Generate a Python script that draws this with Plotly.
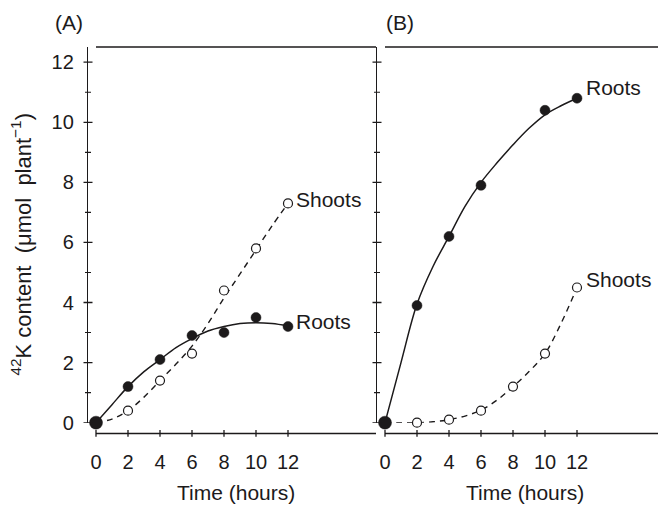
import plotly.graph_objects as go

# ---- measured data (hours, 42K content in umol per plant) ----
hours = [0, 2, 4, 6, 8, 10, 12]
roots_a = [0.0, 1.2, 2.1, 2.9, 3.0, 3.5, 3.2]
shoots_a = [0.0, 0.4, 1.4, 2.3, 4.4, 5.8, 7.3]

hours_roots_b = [0, 2, 4, 6, 10, 12]
roots_b = [0.0, 3.9, 6.2, 7.9, 10.4, 10.8]
shoots_b = [0.0, 0.0, 0.1, 0.4, 1.2, 2.3, 4.5]

# ---- fitted curves, sampled every hour ----
fit_hours = [0, 1, 2, 3, 4, 5, 6, 7, 8, 9, 10, 11, 12]
fit_roots_a = [0.0, 0.6, 1.2, 1.7, 2.1, 2.5, 2.8, 3.05, 3.2, 3.3, 3.33, 3.3, 3.22]
fit_shoots_a = [0.0, 0.12, 0.4, 0.85, 1.4, 1.95, 2.55, 3.3, 4.15, 4.95, 5.75, 6.55, 7.3]
fit_roots_b = [0.0, 2.0, 3.95, 5.2, 6.2, 7.2, 8.0, 8.65, 9.25, 9.8, 10.25, 10.55, 10.8]
fit_shoots_b = [0.0, 0.0, 0.0, 0.03, 0.1, 0.22, 0.42, 0.75, 1.2, 1.7, 2.3, 3.3, 4.5]

# ---- axis ticks and labels ----
x_ticks = [0, 2, 4, 6, 8, 10, 12]
y_ticks = [0, 2, 4, 6, 8, 10, 12]
y_minor = [1, 3, 5, 7, 9, 11]
panel_labels = ["(A)", "(B)"]
x_title = "Time (hours)"
y_title = "<sup>42</sup>K content\u00a0 (\u03bcmol\u00a0 plant<sup>\u22121</sup>)"

INK = "#1c1a1b"
FONT = "Liberation Sans, Arial, Helvetica, sans-serif"
W, H = 658, 509


def py(v):
    """pixel row -> paper y"""
    return 1 - v / H


def px(v):
    """pixel column -> paper x"""
    return v / W


Y_TOP = 12.508
XA_RANGE = [-0.5, 17.5]
XB_RANGE = [-0.5, 17.0625]

fig = go.Figure()


def add_panel(xa, ya, fx, fr, fs, hx_r, r_vals, s_vals):
    fig.add_trace(go.Scatter(x=fx, y=fs, mode="lines", xaxis=xa, yaxis=ya,
                             line=dict(color=INK, width=1.4, dash="6px,5px", shape="spline", smoothing=1.0),
                             hoverinfo="skip", showlegend=False))
    fig.add_trace(go.Scatter(x=fx, y=fr, mode="lines", xaxis=xa, yaxis=ya,
                             line=dict(color=INK, width=1.5, shape="spline", smoothing=1.0),
                             hoverinfo="skip", showlegend=False))
    fig.add_trace(go.Scatter(x=hours, y=s_vals, mode="markers", xaxis=xa, yaxis=ya,
                             marker=dict(symbol="circle", size=9, color="white", opacity=1,
                                         line=dict(color=INK, width=1.2)),
                             cliponaxis=False, showlegend=False))
    sizes = [13] + [10] * (len(r_vals) - 1)
    fig.add_trace(go.Scatter(x=hx_r, y=r_vals, mode="markers", xaxis=xa, yaxis=ya,
                             marker=dict(symbol="circle", size=sizes, color=INK, opacity=1,
                                         line=dict(color=INK, width=0.5)),
                             cliponaxis=False, showlegend=False))


add_panel("x", "y", fit_hours, fit_roots_a, fit_shoots_a, hours, roots_a, shoots_a)
add_panel("x2", "y2", fit_hours, fit_roots_b, fit_shoots_b, hours_roots_b, roots_b, shoots_b)

common_x = dict(showgrid=False, zeroline=False, showline=False, anchor="free",
                position=py(443), tickvals=x_ticks, ticks="outside", ticklen=11,
                tickcolor="rgba(0,0,0,0)", tickfont=dict(size=20, color=INK, family=FONT))
common_y = dict(showgrid=False, zeroline=False, showline=True, linecolor=INK, linewidth=1.4,
                domain=[py(432), py(48)], range=[0, Y_TOP], tickvals=y_ticks,
                ticks="outside", ticklen=9, tickcolor="rgba(0,0,0,0)",
                tickfont=dict(size=20, color=INK, family=FONT))

fig.update_layout(
    width=W, height=H, autosize=False,
    margin=dict(l=0, r=0, t=0, b=0),
    paper_bgcolor="white", plot_bgcolor="rgba(0,0,0,0)",
    font=dict(family=FONT, color=INK),
    xaxis=dict(domain=[px(88), px(376)], range=XA_RANGE, **common_x),
    xaxis2=dict(domain=[px(377), 1.0], range=XB_RANGE, **common_x),
    yaxis=dict(anchor="x", showticklabels=True, **common_y),
    yaxis2=dict(anchor="x2", showticklabels=False, **common_y),
)

shapes = []
line_style = dict(color=INK, width=1.4)
for xa, xmax in (("x", XA_RANGE[1]), ("x2", XB_RANGE[1])):
    # bottom axis line starting at the zero tick
    shapes.append(dict(type="line", xref=xa, yref="paper", x0=0, x1=xmax,
                       y0=py(443), y1=py(443), line=line_style))
    # frame line along the top
    shapes.append(dict(type="line", xref=xa, yref="paper", x0=0, x1=xmax,
                       y0=py(48), y1=py(48), line=line_style))
    # crossing x ticks
    for t in x_ticks:
        shapes.append(dict(type="line", xref=xa, yref="paper", x0=t, x1=t,
                           y0=py(446.5), y1=py(439.5), line=dict(color=INK, width=1.3)))

for ya, xline in (("y", 88), ("y2", 377)):
    for t in y_ticks:
        shapes.append(dict(type="line", xref="paper", yref=ya, x0=px(xline - 4.5), x1=px(xline + 4.5),
                           y0=t, y1=t, line=dict(color=INK, width=1.3)))
    for t in y_minor:
        shapes.append(dict(type="line", xref="paper", yref=ya, x0=px(xline - 3), x1=px(xline + 3),
                           y0=t, y1=t, line=dict(color=INK, width=1.1)))

fig.update_layout(shapes=shapes)

ann = []
lab_font = dict(size=21, color=INK, family=FONT)
# series labels
ann.append(dict(x=hours[-1], y=shoots_a[-1], xref="x", yref="y", text="Shoots", showarrow=False,
                xanchor="left", yanchor="middle", xshift=6, yshift=4, font=lab_font))
ann.append(dict(x=hours[-1], y=roots_a[-1], xref="x", yref="y", text="Roots", showarrow=False,
                xanchor="left", yanchor="middle", xshift=6, yshift=5, font=lab_font))
ann.append(dict(x=hours_roots_b[-1], y=roots_b[-1], xref="x2", yref="y2", text="Roots", showarrow=False,
                xanchor="left", yanchor="middle", xshift=7, yshift=11, font=lab_font))
ann.append(dict(x=hours[-1], y=shoots_b[-1], xref="x2", yref="y2", text="Shoots", showarrow=False,
                xanchor="left", yanchor="middle", xshift=7, yshift=8, font=lab_font))
# x titles
for xa in ("x", "x2"):
    ann.append(dict(x=8.75, y=py(503), xref=xa, yref="paper", text=x_title, showarrow=False,
                    xanchor="center", yanchor="middle", font=lab_font))
# panel letters
ann.append(dict(x=px(53), y=py(23), xref="paper", yref="paper", text=panel_labels[0], showarrow=False,
                xanchor="left", yanchor="middle", font=lab_font))
ann.append(dict(x=px(384), y=py(23), xref="paper", yref="paper", text=panel_labels[1], showarrow=False,
                xanchor="left", yanchor="middle", font=lab_font))
# y title
ann.append(dict(x=px(21), y=py(250), xref="paper", yref="paper", text=y_title, showarrow=False,
                textangle=-90, xanchor="center", yanchor="middle", font=dict(size=22, color=INK, family=FONT)))
fig.update_layout(annotations=ann)

fig.write_html("out.html")
